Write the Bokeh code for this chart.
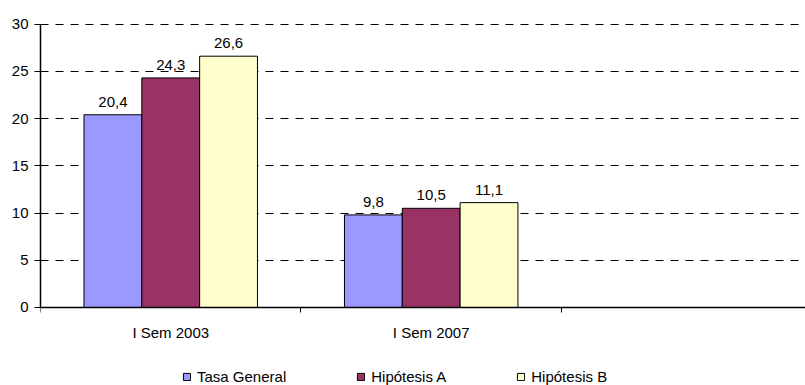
from bokeh.plotting import figure
from bokeh.models import (ColumnDataSource, Range1d, FixedTicker, Legend, LegendItem)
from bokeh.core.properties import value
from bokeh.embed import file_html
from bokeh.resources import INLINE

# Data
categories = ["I Sem 2003", "I Sem 2007"]
series_names = ["Tasa General", "Hipótesis A", "Hipótesis B"]
tasa_general = [20.4, 9.8]
hipotesis_a = [24.3, 10.5]
hipotesis_b = [26.6, 11.1]
y_ticks = [0, 5, 10, 15, 20, 25, 30]

series_values = [tasa_general, hipotesis_a, hipotesis_b]
colors = ["#9999FF", "#993366", "#FFFFCC"]
FONT = "Liberation Sans"
FS = "15px"

bar_w = 0.222
centers = [i + 0.5 for i in range(len(categories))]

# The frame runs down to the bottom edge; the category axis sits at y=0 and
# the legend lives in the space beneath it.
p = figure(width=805, height=385, output_backend="svg", toolbar_location=None,
           x_range=Range1d(0, 2.937), y_range=Range1d(-8.256, 30.06),
           min_border_left=40, min_border_right=0, min_border_top=23,
           min_border_bottom=0)
p.outline_line_color = None
p.background_fill_color = "white"
p.border_fill_color = "white"

renderers = []
for k, (name, vals, col) in enumerate(zip(series_names, series_values, colors)):
    xs = [c + (k - 1) * bar_w for c in centers]
    labels = [f"{v:.1f}".replace(".", ",") for v in vals]
    src = ColumnDataSource(dict(x=xs, top=vals, label=labels))
    r = p.vbar(x="x", top="top", width=bar_w, bottom=0, source=src,
               fill_color=col, line_color="black", line_width=1)
    renderers.append((name, r))
    p.text(x="x", y="top", text="label", source=src, text_align="center",
           text_baseline="alphabetic", y_offset=-13,
           text_font=value(FONT), text_font_size=FS, text_color="black")

# Axes
xa = p.xaxis[0]
xa.fixed_location = 0
xa.ticker = FixedTicker(ticks=centers, minor_ticks=[0, 1, 2])
xa.major_label_overrides = {c: lab for c, lab in zip(centers, categories)}
xa.major_tick_out = 0
xa.major_tick_in = 0
xa.minor_tick_out = 5
xa.minor_tick_in = 0
xa.minor_tick_line_color = "black"
xa.axis_line_color = "black"
xa.axis_line_width = 1.5
xa.major_label_standoff = 12
xa.major_label_text_font = FONT
xa.major_label_text_font_size = FS
xa.major_label_text_color = "black"

ya = p.yaxis[0]
ya.bounds = (0, 30)
ya.ticker = FixedTicker(ticks=y_ticks)
ya.major_tick_out = 6
ya.major_tick_in = 0
ya.minor_tick_out = 0
ya.minor_tick_in = 0
ya.major_tick_line_color = "black"
ya.axis_line_color = "black"
ya.axis_line_width = 1.5
ya.major_label_standoff = 6
ya.major_label_text_font = FONT
ya.major_label_text_font_size = FS
ya.major_label_text_color = "black"

p.xgrid.grid_line_color = None
p.ygrid.ticker = FixedTicker(ticks=y_ticks)
p.ygrid.grid_line_color = "black"
p.ygrid.grid_line_dash = "8 7"
p.ygrid.grid_line_width = 1

legend = Legend(items=[LegendItem(label=n, renderers=[r]) for n, r in renderers],
                orientation="horizontal", location=(142, 0),
                glyph_width=9, glyph_height=9, label_standoff=6, spacing=70,
                padding=0, margin=0, label_height=14,
                label_text_font=FONT, label_text_font_size=FS,
                label_text_color="black",
                border_line_color=None, background_fill_alpha=0)
p.add_layout(legend, "center")

open("out.html", "w").write(file_html(p, INLINE))
